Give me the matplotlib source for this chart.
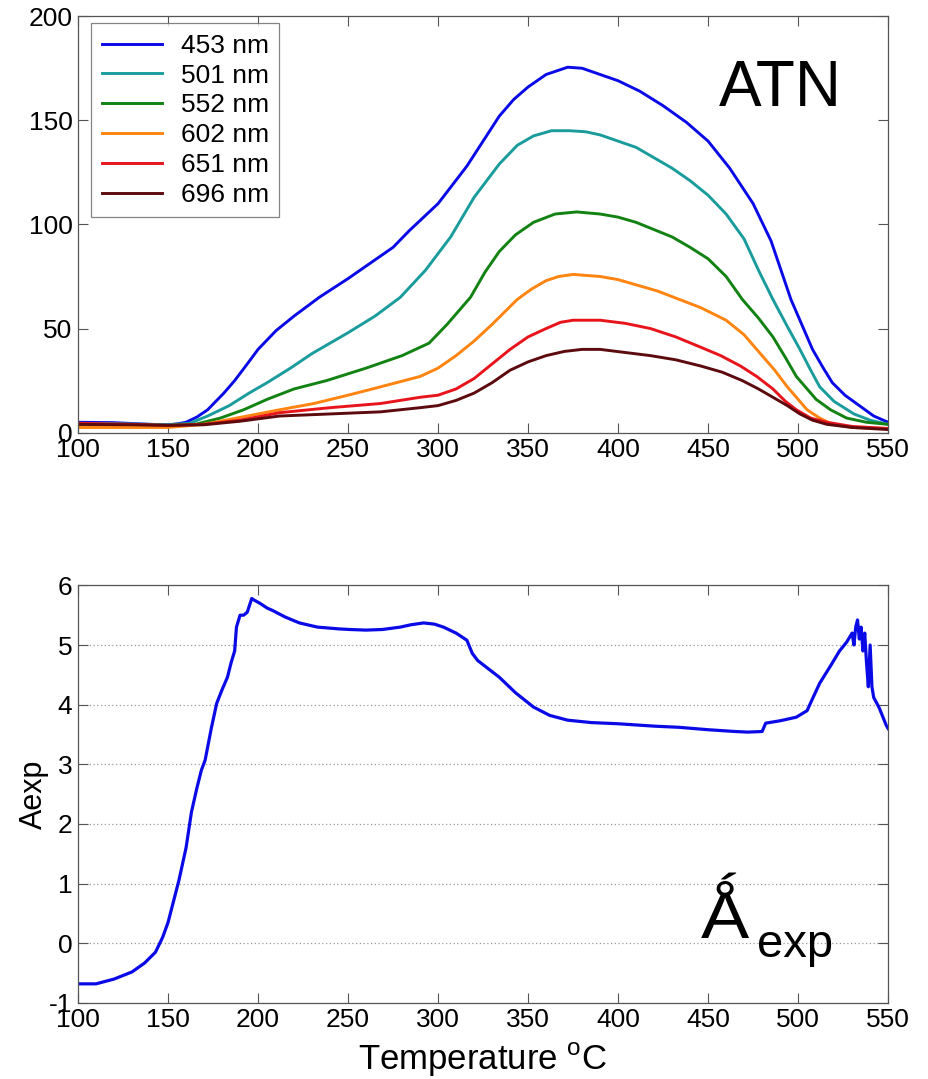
import matplotlib

matplotlib.use("Agg")
import matplotlib.pyplot as plt

plt.rcParams["font.family"] = ["Liberation Sans", "DejaVu Sans"]
plt.rcParams["mathtext.fontset"] = "custom"
plt.rcParams["mathtext.rm"] = "Liberation Sans"
plt.rcParams["axes.unicode_minus"] = False

# ATN curves (temperature in degC)
x453 = [100, 120, 140, 150, 155, 160, 166, 172, 181, 187, 194, 200, 210, 220, 234, 250, 265, 275,
        284, 300, 316, 325, 334, 342, 350, 360, 372, 380, 390, 400, 412, 425, 438, 450, 462, 475,
        485, 496, 502, 508, 514, 519, 526, 534, 542, 550]
y453 = [5, 4.8, 4, 3.8, 4.2, 5, 7.5, 11, 19, 25, 33, 40, 49, 56, 65, 74, 83, 89,
        97, 110, 128, 140, 152, 160, 166, 172, 175.5, 175, 172, 169, 164, 157, 149, 140, 127, 110,
        92, 64, 52, 40, 31, 24, 18, 13, 8, 5]

x501 = [100, 130, 150, 162, 172, 184, 195, 205, 218, 230, 250, 265, 279, 293, 307, 320, 334, 344,
        353, 363, 373, 382, 390, 400, 410, 420, 430, 440, 450, 460, 470, 478, 486, 494, 501, 507,
        512, 520, 531, 540, 550]
y501 = [4.5, 4.2, 3.8, 4.5, 8, 13, 19, 24, 31, 38, 48, 56, 65, 78, 94, 113, 129, 138,
        142.5, 145, 145, 144.5, 143, 140, 137, 132, 127, 121, 114, 105, 93, 78, 64, 51, 40, 30,
        22, 15, 9, 6, 4]

x552 = [100, 130, 150, 165, 179, 192, 205, 220, 238, 260, 280, 295, 305, 318, 326, 334, 343, 353,
        365, 377, 390, 400, 410, 420, 430, 440, 450, 460, 469, 478, 486, 493, 499, 505, 510, 518,
        527, 538, 550]
y552 = [4, 3.8, 3.5, 4, 7, 11, 16, 21, 25, 31, 37, 43, 52, 65, 77, 87, 95, 101,
        105, 106, 105, 103.5, 101, 97.5, 94, 89, 83.5, 75, 64, 55, 46, 36, 27, 21, 16, 11,
        7, 5, 4]

x602 = [100, 130, 150, 170, 194, 212, 231, 250, 268, 290, 300, 310, 320, 330, 344, 352, 360, 367,
        375, 390, 400, 410, 422, 434, 446, 460, 470, 479, 487, 494, 500, 505, 512, 519, 530, 550]
y602 = [2.5, 2.5, 2.5, 4, 8, 11, 14, 18, 22, 27, 31, 37, 44, 52, 64, 69, 73, 75,
        76, 75, 73.5, 71, 68, 64, 60, 54, 47, 38, 30, 22, 16, 11, 7, 4, 2.5, 2]

x651 = [100, 130, 150, 170, 190, 212, 240, 268, 290, 300, 310, 320, 330, 340, 350, 360, 368, 375,
        390, 404, 418, 432, 446, 457, 468, 477, 486, 493, 499, 507, 516, 530, 550]
y651 = [4.5, 4, 3.5, 4, 6, 9.6, 12, 14, 17, 18, 21, 26, 33, 40, 46, 50, 53, 54,
        54, 52.5, 50, 46, 41, 37, 32, 27, 21, 15, 11, 7, 5, 3, 2]

x696 = [100, 130, 150, 170, 190, 212, 240, 268, 290, 300, 310, 320, 330, 340, 350, 360, 370, 380,
        390, 404, 418, 432, 446, 458, 469, 478, 486, 494, 501, 508, 516, 530, 550]
y696 = [4, 3.8, 3.5, 3.8, 5.5, 8, 9, 10, 12, 13, 15.5, 19, 24, 30, 34, 37, 39, 40,
        40, 38.5, 37, 35, 32, 29, 25, 21, 17, 13, 9, 6, 4, 2.5, 1.5]

wavelengths = ["453 nm", "501 nm", "552 nm", "602 nm", "651 nm", "696 nm"]
colors = ["#0a0ae6", "#1a9c9c", "#128212", "#ff8410", "#e8141c", "#5c0a0e"]

# Aexp curve
x_aexp = [100, 110, 120, 130, 137, 143, 147, 150, 153, 156, 160, 163, 166, 168.5, 170.6, 174, 177,
          180, 183, 185, 187, 188, 190, 192, 194, 196.5, 198, 201, 205, 208, 215, 223, 233, 245,
          251, 260, 269, 279, 285, 292, 298, 303, 310, 316, 319, 322, 328, 334, 343, 353, 362,
          372, 385, 400, 420, 434, 450, 465, 472, 480, 482, 490, 499, 505, 508, 512, 518, 523,
          527, 530, 531, 532, 533, 534, 535, 536, 537, 538, 539, 540, 541, 542, 545, 549, 550]
y_aexp = [-0.68, -0.68, -0.6, -0.48, -0.33, -0.15, 0.1, 0.35, 0.7, 1.05, 1.6, 2.2, 2.6, 2.9, 3.07,
          3.6, 4.02, 4.25, 4.46, 4.7, 4.9, 5.3, 5.5, 5.5, 5.55, 5.78, 5.75, 5.7, 5.62, 5.58, 5.47,
          5.37, 5.3, 5.27, 5.26, 5.25, 5.26, 5.3, 5.34, 5.37, 5.35, 5.3, 5.2, 5.08, 4.86, 4.74,
          4.6, 4.46, 4.2, 3.96, 3.82, 3.74, 3.7, 3.68, 3.64, 3.62, 3.58, 3.55, 3.54, 3.55, 3.69,
          3.73, 3.79, 3.9, 4.1, 4.36, 4.65, 4.9, 5.05, 5.2, 5.0, 5.3, 5.42, 5.1, 5.3, 4.9, 5.2,
          4.7, 4.3, 5.0, 4.3, 4.12, 3.95, 3.65, 3.6]

x_ticks = [100, 150, 200, 250, 300, 350, 400, 450, 500, 550]
atn_ticks = [0, 50, 100, 150, 200]
aexp_ticks = [-1, 0, 1, 2, 3, 4, 5, 6]

fig = plt.figure(figsize=(9.29, 10.79), dpi=100)
ax1 = fig.add_axes([0.084, 0.599, 0.872, 0.386])
ax2 = fig.add_axes([0.084, 0.0705, 0.872, 0.387])

series = [(x453, y453), (x501, y501), (x552, y552), (x602, y602), (x651, y651), (x696, y696)]
for (xs, ys), lab, c in zip(series, wavelengths, colors):
    ax1.plot(xs, ys, color=c, linewidth=2.1, label=lab)

ax2.plot(x_aexp, y_aexp, color="#0a0ae6", linewidth=2.3)

for ax in (ax1, ax2):
    ax.set_xlim(100, 550)
    ax.set_xticks(x_ticks)
    ax.tick_params(direction="in", top=True, right=True, length=7, width=0.8,
                   color="#555555", labelsize=19, pad=4)
    for sp in ax.spines.values():
        sp.set_color("#555555")
        sp.set_linewidth(0.9)

ax1.set_ylim(0, 200)
ax1.set_yticks(atn_ticks)
ax2.set_ylim(-1, 6)
ax2.set_yticks(aexp_ticks)
ax2.yaxis.grid(True, linestyle=(0, (1, 2)), color="#9a9a9a", linewidth=0.9)

leg = ax1.legend(loc="upper left", bbox_to_anchor=(0.016, 0.983), fontsize=19,
                 fancybox=False, edgecolor="#666666", handlelength=2.3,
                 labelspacing=0.22, borderpad=0.4, handletextpad=0.7, borderaxespad=0)
leg.get_frame().set_linewidth(0.9)

ax1.text(490, 165, "ATN", fontsize=46, ha="center", va="center")

ax2.text(446, 0.09, "\u01FA", fontsize=52, ha="left", va="baseline")
ax2.text(477, -0.23, "exp", fontsize=34, ha="left", va="baseline")

ax2.set_ylabel("Aexp", fontsize=22)
ax2.yaxis.set_label_coords(-0.036, 0.5)
ax2.set_xlabel(r"Temperature $^{\mathrm{o}}$C", fontsize=25, labelpad=6)

fig.savefig("out.png", dpi=100)
